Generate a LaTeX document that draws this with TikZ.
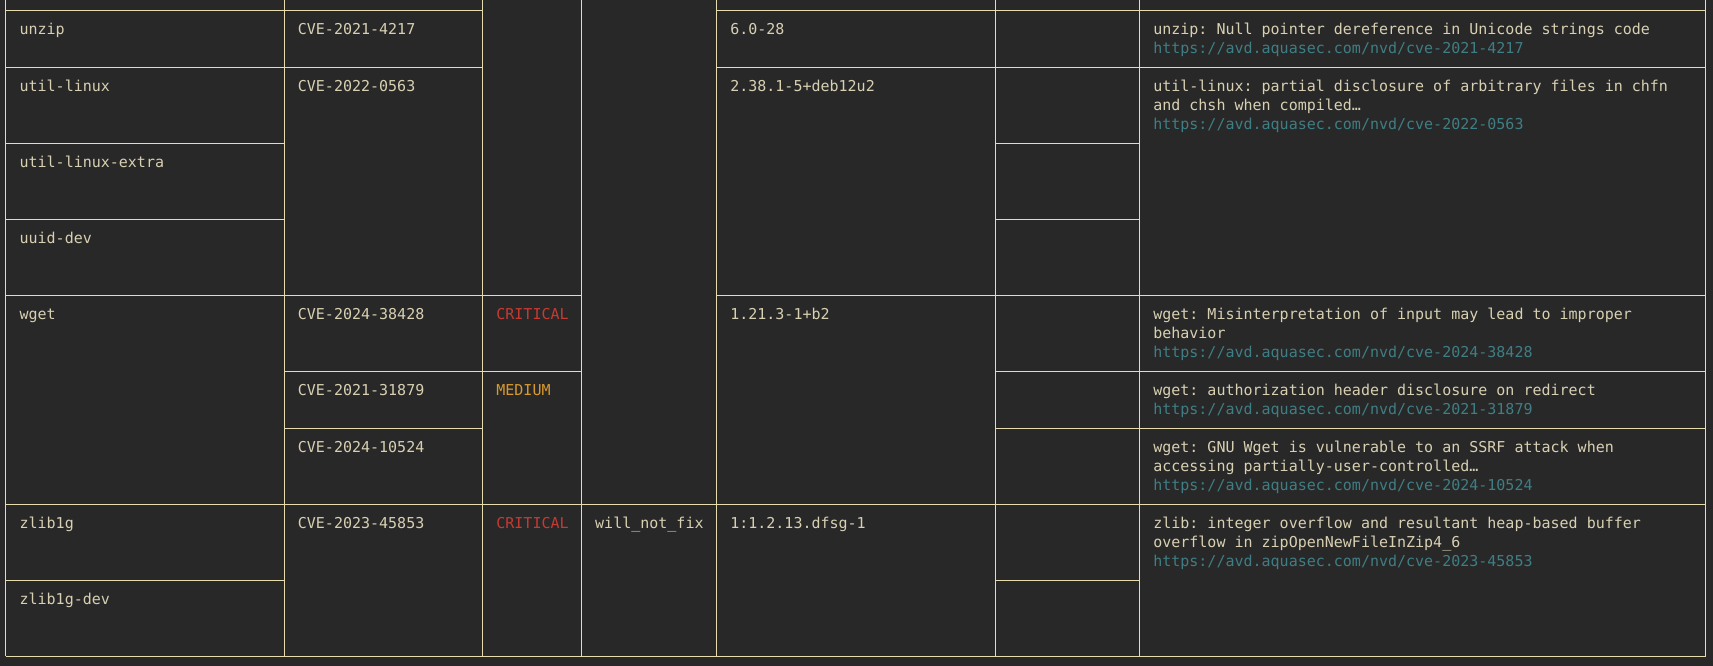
\documentclass[tikz,border=0pt]{standalone}
\usepackage{fontspec}
\setmonofont{DejaVu Sans Mono}
\usetikzlibrary{positioning}

\definecolor{bgdark}{HTML}{282828}
\definecolor{gridline}{HTML}{E6DCAE}
\definecolor{celltext}{HTML}{D8D0B2}
\definecolor{sevcrit}{HTML}{C63A32}
\definecolor{sevmed}{HTML}{D89A2E}
\definecolor{linkteal}{HTML}{3F7E84}

\newcommand\cellfont{\ttfamily\fontsize{15}{19}\selectfont}
\newcommand\cvelink[1]{\textcolor{linkteal}{https://avd.aquasec.com/nvd/cve-#1}}

\begin{document}
\begin{tikzpicture}[
    x=1pt, y=-1pt,
    grid/.style={draw=gridline, line width=1pt},
    cell/.style={anchor=north west, inner sep=0pt, align=left, font=\cellfont, text=celltext, execute at begin node=\strut},
    desc/.style={cell, yshift=-2.2pt},
    crit/.style={cell, text=sevcrit},
    med/.style={cell, text=sevmed}
]
    % Background
    \useasboundingbox (0,0) rectangle (1713,666);
    \fill[bgdark] (0,0) rectangle (1713,666);

    % Column rules
    \draw[grid] (5.7,0) -- (5.7,656.3) (284,0) -- (284,656.3) (482.5,0) -- (482.5,656.3)
        (581.3,0) -- (581.3,656.3) (716.4,0) -- (716.4,656.3) (995.3,0) -- (995.3,656.3)
        (1139.4,0) -- (1139.4,656.3) (1705.5,0) -- (1705.5,656.3);

    % Row rules
    \draw[grid] (5.7,10.3) -- (482.5,10.3) (716.4,10.3) -- (1705.5,10.3);
    \draw[grid] (5.7,67.3) -- (482.5,67.3) (716.4,67.3) -- (1705.5,67.3);
    \draw[grid] (5.7,143.3) -- (284,143.3) (995.3,143.3) -- (1139.4,143.3);
    \draw[grid] (5.7,219.3) -- (284,219.3) (995.3,219.3) -- (1139.4,219.3);
    \draw[grid] (5.7,295.3) -- (581.3,295.3) (716.4,295.3) -- (1705.5,295.3);
    \draw[grid] (284,371.3) -- (581.3,371.3) (995.3,371.3) -- (1705.5,371.3);
    \draw[grid] (284,428.3) -- (482.5,428.3) (995.3,428.3) -- (1705.5,428.3);
    \draw[grid] (5.7,504.3) -- (1705.5,504.3);
    \draw[grid] (5.7,580.3) -- (284,580.3) (995.3,580.3) -- (1139.4,580.3);
    \draw[grid] (5.7,656.3) -- (1705.5,656.3);

    % Packages
    \node[cell] (p1) at (19.4,21) {unzip};
    \node[cell] (p2) at (19.4,78) {util-linux};
    \node[cell] (p3) at (19.4,154) {util-linux-extra};
    \node[cell] (p4) at (19.4,230) {uuid-dev};
    \node[cell] (p5) at (19.4,306) {wget};
    \node[cell] (p6) at (19.4,515) {zlib1g};
    \node[cell] (p7) at (19.4,591) {zlib1g-dev};

    % Vulnerability IDs
    \node[cell] (c1) at (297.7,21) {CVE-2021-4217};
    \node[cell] (c2) at (297.7,78) {CVE-2022-0563};
    \node[cell] (c3) at (297.7,306) {CVE-2024-38428};
    \node[cell] (c4) at (297.7,382) {CVE-2021-31879};
    \node[cell] (c5) at (297.7,439) {CVE-2024-10524};
    \node[cell] (c6) at (297.7,515) {CVE-2023-45853};

    % Severity and status
    \node[crit] (s1) at (496.2,306) {CRITICAL};
    \node[med] (s2) at (496.2,382) {MEDIUM};
    \node[crit] (s3) at (496.2,515) {CRITICAL};
    \node[cell] (st) at (595,515) {will\_not\_fix};

    % Installed versions
    \node[cell] (v1) at (730.1,21) {6.0-28};
    \node[cell] (v2) at (730.1,78) {2.38.1-5+deb12u2};
    \node[cell] (v3) at (730.1,306) {1.21.3-1+b2};
    \node[cell] (v4) at (730.1,515) {1:1.2.13.dfsg-1};

    % Titles
    \node[desc] (d1) at (1153.1,21) {unzip: Null pointer dereference in Unicode strings code\\\cvelink{2021-4217}};
    \node[desc] (d2) at (1153.1,78) {util-linux: partial disclosure of arbitrary files in chfn\\and chsh when compiled…\\\cvelink{2022-0563}};
    \node[desc] (d3) at (1153.1,306) {wget: Misinterpretation of input may lead to improper\\behavior\\\cvelink{2024-38428}};
    \node[desc] (d4) at (1153.1,382) {wget: authorization header disclosure on redirect\\\cvelink{2021-31879}};
    \node[desc] (d5) at (1153.1,439) {wget: GNU Wget is vulnerable to an SSRF attack when\\accessing partially-user-controlled…\\\cvelink{2024-10524}};
    \node[desc] (d6) at (1153.1,515) {zlib: integer overflow and resultant heap-based buffer\\overflow in zipOpenNewFileInZip4\_6\\\cvelink{2023-45853}};
\end{tikzpicture}
\end{document}
